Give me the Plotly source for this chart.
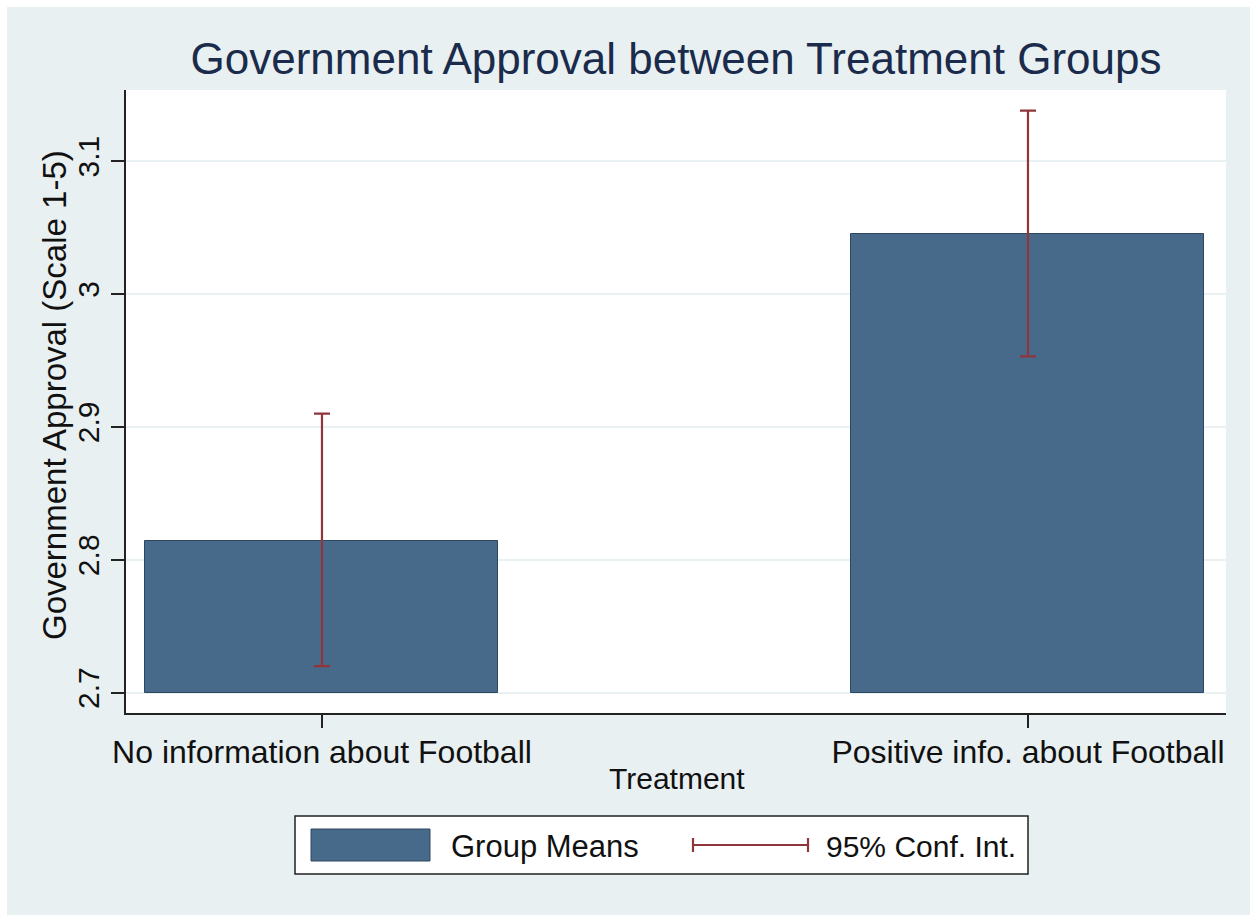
import plotly.graph_objects as go

# Group means and 95% confidence bounds of government approval (scale 1-5)
groups = ["No information about Football", "Positive info. about Football"]
means = [2.814, 3.045]
ci_low = [2.720, 2.953]
ci_high = [2.910, 3.138]
y_ticks = [2.7, 2.8, 2.9, 3.0, 3.1]
y_tick_text = ["2.7", "2.8", "2.9", "3", "3.1"]
bar_base = 2.7

W, H = 1250, 915
L, R, T, B = 126, 1226, 90, 713          # plot-area edges in pixels
BG = "#E8F0F2"
BAR = "#486A8A"
CI = "#90353B"
FONT = "Liberation Sans, Arial, sans-serif"


def px(x):
    return (x - L) / (R - L)


def py(y):
    return (B - y) / (B - T)


fig = go.Figure()

fig.add_trace(go.Bar(
    x=groups,
    y=[m - bar_base for m in means],
    base=bar_base,
    width=0.5,
    marker=dict(color=BAR, line=dict(color="#2E4760", width=1)),
    name="Group Means",
    showlegend=False,
))

fig.add_trace(go.Scatter(
    x=groups,
    y=means,
    mode="markers",
    marker=dict(size=1, color="rgba(0,0,0,0)"),
    error_y=dict(
        type="data",
        symmetric=False,
        array=[h - m for h, m in zip(ci_high, means)],
        arrayminus=[m - l for m, l in zip(means, ci_low)],
        color=CI,
        thickness=2.2,
        width=8,
    ),
    name="95% Conf. Int.",
    showlegend=False,
))

shapes = [
    # thin white frame on the left and top of the page
    dict(type="rect", xref="paper", yref="paper", x0=px(0), x1=px(7), y0=py(H), y1=py(0),
         fillcolor="white", line=dict(width=0), layer="above"),
    dict(type="rect", xref="paper", yref="paper", x0=px(0), x1=px(W), y0=py(7), y1=py(0),
         fillcolor="white", line=dict(width=0), layer="above"),
    # legend box
    dict(type="rect", xref="paper", yref="paper", x0=px(295), x1=px(1028), y0=py(874), y1=py(816),
         fillcolor="white", line=dict(color="#222222", width=1.5)),
    dict(type="rect", xref="paper", yref="paper", x0=px(311), x1=px(430), y0=py(861), y1=py(829),
         fillcolor=BAR, line=dict(color="#2E4760", width=1)),
    dict(type="line", xref="paper", yref="paper", x0=px(693), x1=px(808), y0=py(845), y1=py(845),
         line=dict(color=CI, width=2.2)),
    dict(type="line", xref="paper", yref="paper", x0=px(693), x1=px(693), y0=py(838), y1=py(852),
         line=dict(color=CI, width=2.2)),
    dict(type="line", xref="paper", yref="paper", x0=px(808), x1=px(808), y0=py(838), y1=py(852),
         line=dict(color=CI, width=2.2)),
]

annotations = [
    dict(text="Government Approval (Scale 1-5)", textangle=-90, xref="paper", yref="paper",
         x=px(54), y=py(395), xanchor="center", yanchor="middle", showarrow=False,
         font=dict(family=FONT, size=33, color="#111111")),
    dict(text="Treatment", xref="paper", yref="paper",
         x=px(677), y=py(778), xanchor="center", yanchor="middle", showarrow=False,
         font=dict(family=FONT, size=30, color="#111111")),
    dict(text="Group Means", xref="paper", yref="paper",
         x=px(449), y=py(846), xanchor="left", yanchor="middle", showarrow=False,
         font=dict(family=FONT, size=31, color="#111111")),
    dict(text="95% Conf. Int.", xref="paper", yref="paper",
         x=px(824), y=py(846), xanchor="left", yanchor="middle", showarrow=False,
         font=dict(family=FONT, size=30, color="#111111")),
]

fig.update_layout(
    width=W, height=H,
    margin=dict(l=L, r=W - R, t=T, b=H - B, pad=0),
    paper_bgcolor=BG,
    plot_bgcolor="white",
    font=dict(family=FONT, color="#111111"),
    title=dict(text="Government Approval between Treatment Groups",
               x=px(676), xref="paper", xanchor="center",
               y=1 - 59 / H, yref="container", yanchor="middle",
               font=dict(family=FONT, size=44, color="#1B2B4B")),
    shapes=shapes,
    annotations=annotations,
    bargap=0,
    showlegend=False,
)

fig.update_xaxes(
    range=[-0.2776, 1.2805],
    showline=True, linecolor="#222222", linewidth=1.5,
    ticks="outside", ticklen=13, tickwidth=1.5, tickcolor="#222222",
    tickfont=dict(family=FONT, size=32, color="#111111"),
    ticklabelstandoff=-3,
    showgrid=False, zeroline=False,
)

fig.update_yaxes(
    range=[2.6847, 3.1535],
    tickvals=y_ticks, ticktext=y_tick_text, tickangle=-90,
    showline=True, linecolor="#222222", linewidth=1.5,
    ticks="outside", ticklen=13, tickwidth=1.5, tickcolor="#222222",
    tickfont=dict(family=FONT, size=30, color="#111111"),
    showgrid=True, gridcolor="#EAF1F3", gridwidth=2,
    zeroline=False,
)

fig.write_html("out.html")
